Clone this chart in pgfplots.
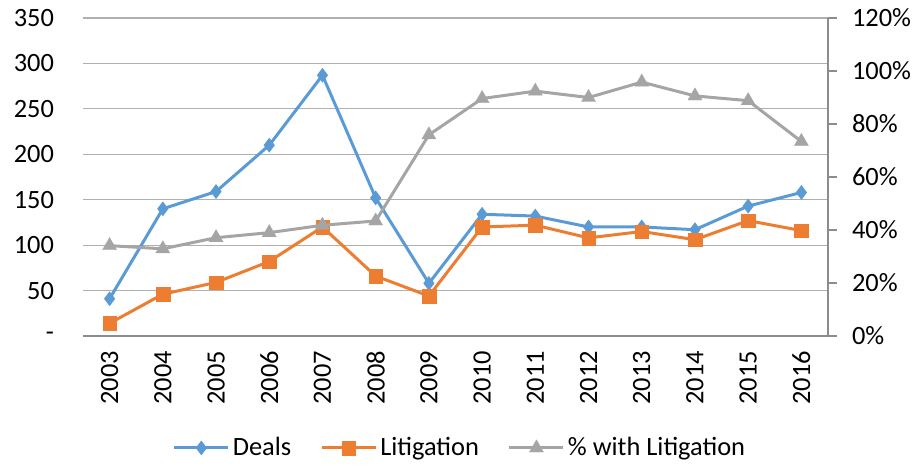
\documentclass[border=0pt]{standalone}
\usepackage{pgfplots}
\pgfplotsset{compat=1.18}
\usepackage{fontspec}
\setmainfont{Carlito}
\definecolor{cDeals}{HTML}{5B9BD5}
\definecolor{cLit}{HTML}{ED7D31}
\definecolor{cPct}{HTML}{A5A5A5}
\definecolor{cGrid}{HTML}{B0B0B0}
\definecolor{cAxis}{HTML}{8C8C8C}
\pgfplotsset{
  common/.style={
    at={(0,0)}, anchor=south west, scale only axis,
    width=372.5pt, height=159pt,
    xmin=-0.5, xmax=13.5,
    /pgf/number format/assume math mode=true,
    tick label style={font=\fontsize{13.2}{15}\selectfont},
  },
  dealsst/.style={color=cDeals, line width=1.5pt, mark=diamond*, mark size=3.3pt, mark options={fill=cDeals, draw=cDeals, line width=0.5pt}},
  litst/.style={color=cLit, line width=1.5pt, mark=square*, mark size=3.4pt, mark options={fill=cLit, draw=cLit, line width=0.1pt}},
  pctst/.style={color=cPct, line width=1.5pt, mark=triangle*, mark size=4.1pt, mark options={fill=cPct, draw=cPct, line width=0.1pt}},
}
\begin{document}
\begin{tikzpicture}
\useasboundingbox (-41.5pt,-66pt) rectangle (419pt,168pt);
\begin{axis}[common,
  ymin=0, ymax=350,
  ytick={0,50,...,350},
  yticklabels={{-\hspace{6pt}},50,100,150,200,250,300,350},
  xtick={0,...,13},
  xticklabels={2003,2004,2005,2006,2007,2008,2009,2010,2011,2012,2013,2014,2015,2016},
  x tick label style={rotate=90, anchor=east, yshift=0pt, xshift=-4pt},
  y tick label style={xshift=-11pt},
  axis x line*=bottom, axis y line*=left,
  y axis line style={draw=none},
  x axis line style={draw=cAxis, line width=1pt, -},
  major tick length=0pt,
  ymajorgrids, grid style={draw=cGrid, line width=0.6pt},
  clip=false,
]
\addplot[dealsst] coordinates {(0,41) (1,140) (2,159) (3,210) (4,287) (5,152) (6,58) (7,134) (8,132) (9,120) (10,120) (11,117) (12,143) (13,158)};
\addplot[litst] coordinates {(0,14) (1,46) (2,59) (3,82) (4,120) (5,66) (6,44) (7,120) (8,122) (9,108) (10,115) (11,106) (12,127) (13,116)};
\end{axis}
\begin{axis}[common,
  ymin=0, ymax=120,
  ytick={0,20,...,120},
  yticklabels={0\%,20\%,40\%,60\%,80\%,100\%,120\%},
  axis y line*=right, axis x line=none,
  y axis line style={draw=cAxis, line width=1pt, -},
  ytick style={draw=cAxis, line width=1pt},
  tick align=outside, major tick length=4.5pt,
  y tick label style={xshift=4pt},
  clip=false,
  legend style={at={(0.5067,-0.352)}, anchor=center, draw=none, fill=none,
    legend columns=3, font=\fontsize{13.2}{15}\selectfont,
    /tikz/every even column/.append style={column sep=13pt},
    nodes={inner sep=1.5pt}},
  legend image code/.code={\draw[mark repeat=2, mark phase=2] plot coordinates {(0pt,0pt) (13.5pt,0pt) (27pt,0pt)};},
]
\addlegendimage{dealsst}
\addlegendentry{Deals}
\addlegendimage{litst}
\addlegendentry{Litigation}
\addplot[pctst] coordinates {(0,34.1) (1,32.9) (2,37.1) (3,39.0) (4,41.8) (5,43.4) (6,75.9) (7,89.6) (8,92.4) (9,90.0) (10,95.8) (11,90.6) (12,88.8) (13,73.4)};
\addlegendentry{\% with Litigation}
\end{axis}
\end{tikzpicture}
\end{document}
